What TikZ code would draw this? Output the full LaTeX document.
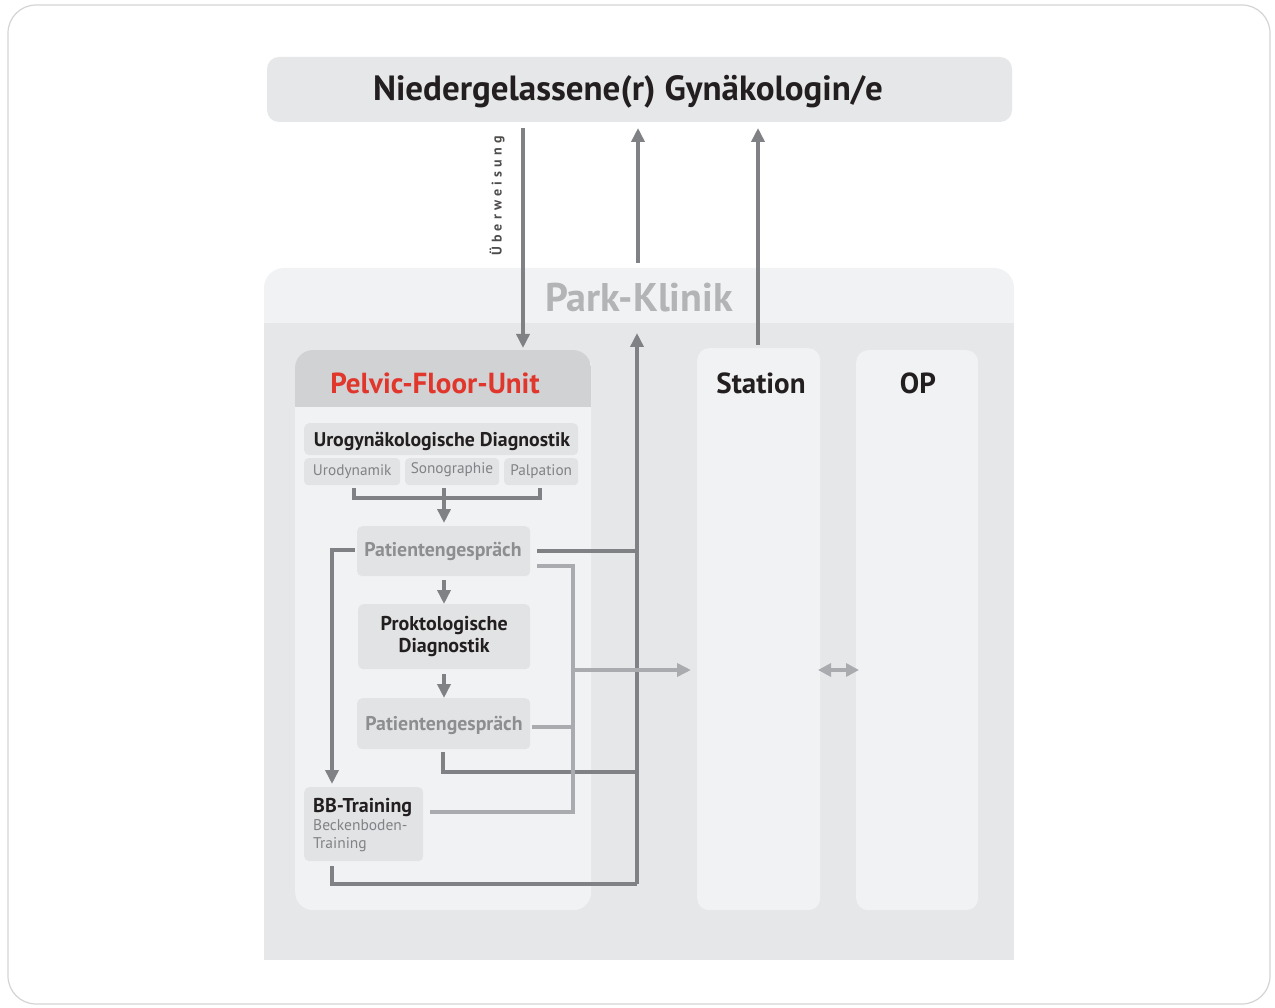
\documentclass[tikz,border=0pt]{standalone}
\usepackage{fontspec}
\setmainfont{PT Sans}
\newfontfamily\spaced[LetterSpace=30]{PT Sans}
\usetikzlibrary{arrows.meta,calc}
\definecolor{lightbg}{HTML}{F1F2F3}
\definecolor{midbg}{HTML}{E6E7E8}
\definecolor{boxbg}{HTML}{E2E3E4}
\definecolor{hdrbg}{HTML}{D1D2D4}
\definecolor{darkline}{HTML}{808184}
\definecolor{lightline}{HTML}{A9ABAE}
\definecolor{pfured}{HTML}{E0362C}
\definecolor{parktext}{HTML}{B3B4B6}
\definecolor{pgtext}{HTML}{8D8E90}
\definecolor{subtext}{HTML}{808285}
\definecolor{frame}{HTML}{D4D4D4}
\definecolor{ink}{HTML}{231F20}
\tikzset{
  dconn/.style={draw=darkline,line width=4pt},
  lconn/.style={draw=lightline,line width=4pt},
  darr/.style={dconn,-{Triangle[width=13pt,length=14pt]}},
  larr/.style={lconn,-{Triangle[width=13pt,length=14pt]}},
  ibox/.style={fill=boxbg,rounded corners=5pt,inner sep=0pt,draw=none},
  subbox/.style={fill=boxbg,rounded corners=4pt,inner sep=0pt,minimum height=27pt,font=\fontsize{15.3}{17}\selectfont,text=subtext},
  pgbox/.style={ibox,minimum width=173pt,minimum height=50pt},
  pgfont/.style={font=\fontsize{19.8}{22}\selectfont\bfseries,text=pgtext},
  lbl/.style={inner sep=0pt},
}
\begin{document}
\begin{tikzpicture}[x=1pt,y=-1pt]
\useasboundingbox (0,0) rectangle (1275,1008);
% outer frame
\draw[frame,line width=1.2pt,rounded corners=28pt,fill=white] (8,5) rectangle (1270,1004);
% top box
\node[fill=midbg,rounded corners=12pt,minimum width=745pt,minimum height=65pt,inner sep=0pt] (gyn) at (639.5,89.5) {};
\node[lbl,font=\fontsize{35}{38}\selectfont\bfseries,text=ink] (gyntxt) at (628,92) {Niedergelassene(r) Gynäkologin/e};
% Park-Klinik
\fill[lightbg,rounded corners=20pt] (264,268) rectangle (1014,340);
\node[fill=midbg,minimum width=750pt,minimum height=637pt,inner sep=0pt,anchor=north west] (park) at (264,323) {};
\node[lbl,font=\fontsize{40}{44}\selectfont\bfseries,text=parktext] (parktxt) at (639,298) {Park-Klinik};
% Pelvic-Floor-Unit panel
\node[fill=lightbg,rounded corners=18pt,minimum width=296pt,minimum height=560pt,inner sep=0pt,anchor=north west] (pfu) at (295,350) {};
\begin{scope}
\clip[rounded corners=18pt] (295,350) rectangle (591,910);
\fill[hdrbg] (295,350) rectangle (591,407);
\end{scope}
\node[lbl,font=\fontsize{29}{32}\selectfont\bfseries,text=pfured] (pfutxt) at (435,383) {Pelvic-Floor-Unit};
% Station, OP
\node[fill=lightbg,rounded corners=12pt,minimum width=123pt,minimum height=562pt,inner sep=0pt,anchor=north west] (station) at (697,348) {};
\node[lbl,font=\fontsize{29}{32}\selectfont\bfseries,text=ink] (stattxt) at (761,383) {Station};
\node[fill=lightbg,rounded corners=12pt,minimum width=122pt,minimum height=560pt,inner sep=0pt,anchor=north west] (op) at (856,350) {};
\node[lbl,font=\fontsize{29}{32}\selectfont\bfseries,text=ink] (optxt) at (918,383) {OP};
% Urogyn box
\node[ibox,minimum width=274pt,minimum height=32pt,anchor=north west] (uro) at (304,423) {};
\node[lbl,font=\fontsize{19.8}{22}\selectfont\bfseries,text=ink] (urotxt) at (442,441) {Urogynäkologische Diagnostik};
\node[subbox,minimum width=96pt,anchor=north west] (udyn) at (304,458) {Urodynamik};
\node[subbox,minimum width=94pt,anchor=north west] (sono) at (405,458) {};
\node[lbl,font=\fontsize{15.3}{17}\selectfont,text=subtext] (sonotxt) at (452,470) {Sonographie};
\node[subbox,minimum width=74pt,anchor=north west] (palp) at (504,458) {Palpation};
% Patientengespraech 1
\node[pgbox,anchor=north west] (pg1) at (357,526) {};
\node[lbl,pgfont] (pg1txt) at (443,551) {Patientengespräch};
% Proktologische Diagnostik
\node[ibox,minimum width=172pt,minimum height=65pt,anchor=north west,align=center,font=\fontsize{20}{22}\selectfont\bfseries,text=ink] (prokt) at (358,604) {Proktologische\\Diagnostik};
% Patientengespraech 2
\node[pgbox,minimum height=51pt,anchor=north west] (pg2) at (357,698) {};
\node[lbl,pgfont] (pg2txt) at (444,725) {Patientengespräch};
% BB-Training
\node[ibox,minimum width=119pt,minimum height=74pt,anchor=north west] (bb) at (304,787) {};
\node[lbl,anchor=base west,font=\fontsize{20}{22}\selectfont\bfseries,text=ink] (bbtxt) at (313,812) {BB-Training};
\node[lbl,anchor=base west,font=\fontsize{15.5}{18}\selectfont,text=subtext] (bbsub1) at (313,830) {Beckenboden-};
\node[lbl,anchor=base west,font=\fontsize{15.5}{18}\selectfont,text=subtext] (bbsub2) at (313,848) {Training};
% Ueberweisung
\node[lbl,rotate=90,font=\fontsize{14}{16}\selectfont\bfseries\spaced,text=ink!80] (ueb) at (497,196) {Überweisung};

% coordinates
\coordinate (gynA) at (523,128);
\coordinate (pfuA) at (523,348);
\coordinate (gynB) at (638,128);
\coordinate (parkB) at (638,263);
\coordinate (gynC) at (758,128);
\coordinate (statC) at (758,345);
\coordinate (busTop) at (637,333);
\coordinate (busBot) at (637,884);
\coordinate (lbus) at (573,670);
\coordinate (statIn) at (691,670);

% dark connectors
\draw[darr] (gynA) -- (pfuA);
\draw[darr] (parkB) -- (gynB);
\draw[darr] (statC) -- (gynC);
\draw[darr] (busBot) -- (busTop);
\draw[dconn] (537,551) -- (637,551);
\draw[dconn] (443,752) -- (443,772) -- (637,772);
\draw[dconn] (332,866) -- (332,884) -- (busBot);
\draw[darr] (355,550) -- (332,550) -- (332,784);
% bracket
\draw[dconn] (354,488) -- (354,498) -- (540,498) -- (540,488);
\draw[darr] (444,488) -- (444,523);
\draw[darr] (444,580) -- (444,604);
\draw[darr] (444,674) -- (444,698);
% light connectors
\draw[lconn] (537,566) -- (573,566) -- (573,812) -- (430,812);
\draw[lconn] (532,727) -- (573,727);
\draw[larr] (lbus) -- (statIn);
\draw[lightline,line width=4pt,{Triangle[width=13pt,length=13pt]}-{Triangle[width=13pt,length=13pt]}] (818,670) -- (859,670);
\end{tikzpicture}
\end{document}
